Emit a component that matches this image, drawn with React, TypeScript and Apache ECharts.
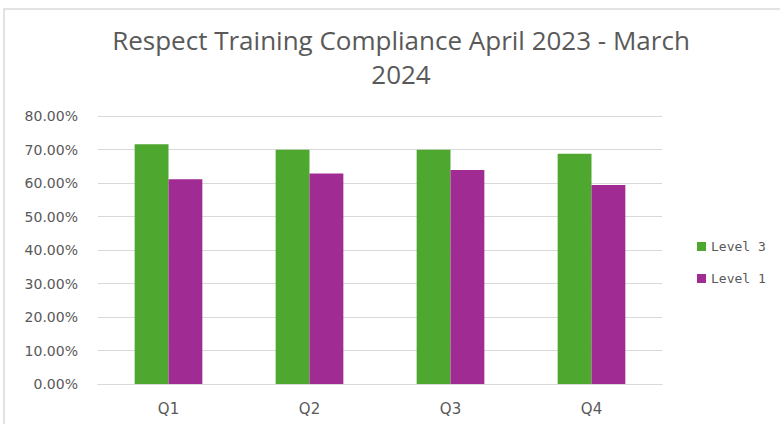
import React, { useEffect, useRef } from "react";
import * as echarts from "echarts";

const categories = ["Q1", "Q2", "Q3", "Q4"];
const level3 = [0.716, 0.699, 0.699, 0.687];
const level1 = [0.611, 0.628, 0.639, 0.594];
const seriesNames = ["Level 3", "Level 1"];
const titleText = "Respect Training Compliance April 2023 - March\n2024";

export default function App() {
  const ref = useRef<HTMLDivElement>(null);
  useEffect(() => {
    document.body.style.margin = "0";
    const chart = echarts.init(ref.current!, null, { renderer: "svg" });
    const font = "Open Sans";
    const labelFont = "DejaVu Sans";
    chart.setOption({
      animation: false,
      backgroundColor: "#ffffff",
      graphic: [
        {
          type: "rect",
          shape: { x: 4, y: 9, width: 800, height: 440 },
          style: { fill: "none", stroke: "#d9d9d9", lineWidth: 1.5 },
          silent: true,
        },
      ],
      title: {
        text: titleText,
        left: 396,
        textAlign: "center",
        top: 18,
        textStyle: {
          fontFamily: font,
          fontSize: 26,
          fontWeight: "normal",
          color: "#595959",
          lineHeight: 34,
        },
      },
      legend: {
        orient: "vertical",
        left: 697,
        top: 240,
        padding: 0,
        itemWidth: 9,
        itemHeight: 9,
        itemGap: 19,
        icon: "rect",
        textStyle: {
          fontFamily: "DejaVu Sans Mono",
          fontSize: 13,
          color: "#595959",
        },
        data: seriesNames,
      },
      grid: { left: 98, right: 118, top: 116, bottom: 40 },
      xAxis: {
        type: "category",
        data: categories,
        axisLine: { lineStyle: { color: "#d9d9d9", width: 1 } },
        axisTick: { show: false },
        axisLabel: { fontFamily: labelFont, fontSize: 15, color: "#595959", margin: 17 },
      },
      yAxis: {
        type: "value",
        min: 0,
        max: 0.8,
        interval: 0.1,
        axisLine: { show: false },
        axisTick: { show: false },
        splitLine: { lineStyle: { color: "#d9d9d9", width: 1 } },
        axisLabel: {
          fontFamily: labelFont,
          fontSize: 14,
          color: "#595959",
          margin: 20,
          formatter: (v: number) => (v * 100).toFixed(2) + "%",
        },
      },
      series: [
        {
          name: seriesNames[0],
          type: "bar",
          data: level3,
          barGap: "0%",
          barCategoryGap: "52%",
          itemStyle: { color: "#4EA72E" },
        },
        {
          name: seriesNames[1],
          type: "bar",
          data: level1,
          barGap: "0%",
          barCategoryGap: "52%",
          itemStyle: { color: "#A02B93" },
        },
      ],
    });
    return () => chart.dispose();
  }, []);
  return <div ref={ref} style={{ width: 780, height: 424 }} />;
}
